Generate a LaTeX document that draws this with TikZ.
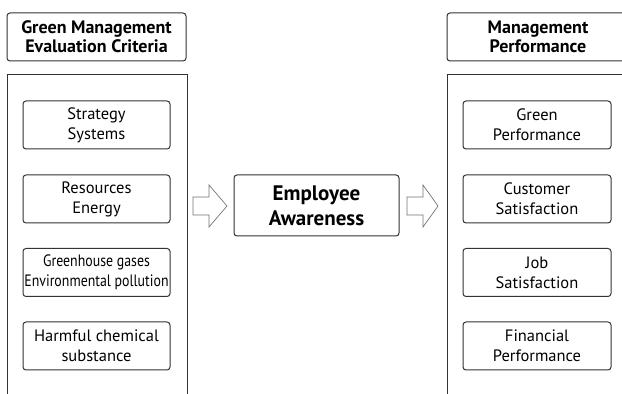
\documentclass[tikz,border=0pt]{standalone}
\usepackage{fontspec}
\setmainfont{PT Sans}
\newfontfamily\narrowfont{PT Sans}[FakeStretch=0.84]
\begin{document}
\begin{tikzpicture}[x=1pt,y=1pt,
  box/.style={draw=black!80,line width=1pt,rounded corners=3pt},
  inner/.style={box,minimum width=147pt,minimum height=48pt,align=center,inner sep=0pt,font=\fontsize{16.5}{20}\selectfont},
  head/.style={box,minimum height=48pt,align=center,inner sep=0pt,font=\bfseries\fontsize{18}{19}\selectfont},
  outer/.style={draw=black!80,line width=1pt},
  bigarrow/.style={draw=black!55,line width=0.7pt,fill=white}]
\useasboundingbox (0,0) rectangle (622,394);
% left header
\node[head,minimum width=179pt] (lh) at (96.5,357) {Green Management\\Evaluation Criteria};
% left outer
\draw[outer] (7,0) -- (7,319) -- (187,319) -- (187,0);
\node[inner] (l1) at (96.5,269) {Strategy\\Systems};
\node[inner] (l2) at (96.5,195) {Resources\\Energy};
\node[inner,font=\narrowfont\fontsize{16.5}{20}\selectfont] (l3) at (96.5,121.5) {Greenhouse gases\\Environmental pollution};
\node[inner] (l4) at (96.5,48) {Harmful chemical\\substance};
% center
\node[box,minimum width=165pt,minimum height=61pt,align=center,inner sep=0pt,font=\bfseries\fontsize{21}{25}\selectfont] (ea) at (316.5,188.5) {Employee\\Awareness};
% arrows
\draw[bigarrow] (193,197) -- (209,197) -- (209,209) -- (227,188) -- (209,167) -- (209,179) -- (193,179) -- cycle;
\draw[bigarrow] (407,197) -- (423,197) -- (423,209) -- (438,188) -- (423,167) -- (423,179) -- (407,179) -- cycle;
% right header
\node[head,minimum width=182pt] (rh) at (538,357) {Management\\Performance};
\draw[outer] (447,0) -- (447,319) -- (630,319);
\node[inner,minimum width=148pt] (r1) at (537,269) {Green\\Performance};
\node[inner,minimum width=148pt] (r2) at (537,195) {Customer\\Satisfaction};
\node[inner,minimum width=148pt] (r3) at (537,121.5) {Job\\Satisfaction};
\node[inner,minimum width=148pt] (r4) at (537,48) {Financial\\Performance};
\end{tikzpicture}
\end{document}
